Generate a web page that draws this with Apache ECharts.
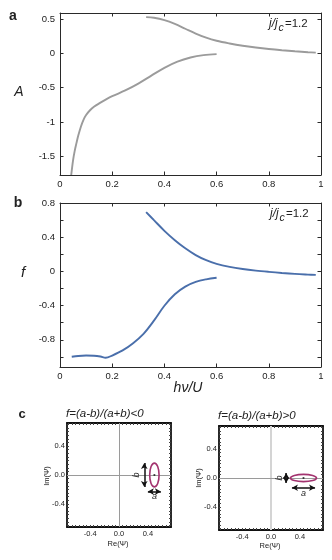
<!DOCTYPE html>
<html><head><meta charset="utf-8">
<script src="https://cdn.jsdelivr.net/npm/echarts@6/dist/echarts.min.js"></script>
<style>html,body{margin:0;padding:0;background:#fff}#c{width:332px;height:560px}</style>
</head><body><div id="c"></div>
<script>
// ---- Panel a : A vs hν/U ----
const aUpper = [[0.33,0.53],[0.36,0.52],[0.40,0.485],[0.44,0.43],[0.48,0.36],[0.52,0.29],[0.56,0.23],[0.60,0.185],[0.65,0.145],[0.70,0.112],[0.75,0.086],[0.80,0.064],[0.85,0.046],[0.90,0.031],[0.95,0.018],[0.98,0.011]];
const aLower = [[0.043,-1.775],[0.05,-1.56],[0.056,-1.43],[0.063,-1.31],[0.07,-1.2],[0.08,-1.07],[0.09,-0.97],[0.1,-0.9],[0.115,-0.83],[0.13,-0.78],[0.15,-0.73],[0.175,-0.675],[0.2,-0.625],[0.25,-0.54],[0.3,-0.44],[0.35,-0.325],[0.4,-0.21],[0.45,-0.12],[0.5,-0.06],[0.55,-0.025],[0.6,-0.01]];
// ---- Panel b : f vs hν/U ----
const bUpper = [[0.33,0.70],[0.36,0.605],[0.40,0.48],[0.44,0.37],[0.48,0.275],[0.52,0.195],[0.56,0.135],[0.60,0.092],[0.65,0.057],[0.70,0.032],[0.75,0.013],[0.80,-0.002],[0.85,-0.015],[0.90,-0.026],[0.95,-0.034],[0.98,-0.038]];
const bLower = [[0.045,-1.0],[0.07,-0.99],[0.1,-0.985],[0.13,-0.987],[0.155,-0.997],[0.175,-1.012],[0.2,-0.985],[0.24,-0.925],[0.28,-0.84],[0.32,-0.73],[0.36,-0.575],[0.40,-0.40],[0.44,-0.265],[0.48,-0.175],[0.52,-0.12],[0.56,-0.09],[0.60,-0.072]];
// ---- Panel c : ellipses in the Re/Im plane ----
const cLeftEllipse = [[0.49, 0, 0.065, 0.165]];   // [centre Re, centre Im, semi a, semi b]
const cLeftArrows = [[0.35,-0.165,0.35,0.165],[0.40,-0.23,0.58,-0.23]];
const cLeftLabels = [[0.24,0,'b'],[0.49,-0.30,'a']];
const cRightEllipse = [[0.45, 0, 0.18, 0.05]];
const cRightArrows = [[0.21,-0.07,0.21,0.07],[0.29,-0.135,0.61,-0.135]];
const cRightLabels = [[0.115,0,'b'],[0.45,-0.22,'a']];
// ---- ticks ----
const abXTicks = [0,0.2,0.4,0.6,0.8,1];
const aYTicks = [-1.5,-1,-0.5,0,0.5];
const bYTicks = [-1,-0.8,-0.6,-0.4,-0.2,0,0.2,0.4,0.6,0.8];
const bYLabels = [-0.8,-0.4,0,0.4,0.8];
const cLabels = [-0.4,0,0.4];
const cTicks = [];
for (let i = -14; i <= 14; i++) cTicks.push(+(i*0.05).toFixed(2));

const FONT = 'Liberation Sans, Arial, Helvetica, sans-serif';
const fmtAB = v => String(+(+v).toFixed(2));
const fmtC = v => (+v).toFixed(1);

function ax(grid, pos, min, max, ticks, labels, o) {
  return {
    type:'value', gridIndex:grid, position:pos, min:min, max:max,
    axisLine:{show:true,onZero:false,lineStyle:{color:o.lc,width:o.lw}},
    axisTick:{show:true,inside:true,length:o.tl,customValues:ticks,lineStyle:{color:o.tc||o.lc,width:1}},
    axisLabel:{show:!!labels,customValues:labels||[],fontSize:o.fs,color:'#222',margin:o.m,fontFamily:FONT,formatter:o.fmt},
    splitLine:{show:false}
  };
}
const oAB = {lc:'#2a2a2a',lw:1,tl:3.5,fs:9.5,m:4,fmt:fmtAB};
const oABy = Object.assign({}, oAB, {m:5});
const oC = {lc:'#111',lw:1.8,tl:2,fs:7.5,m:3,fmt:fmtC,tc:'#444'};
const oCy = Object.assign({}, oC, {m:2});

const xAxis = [
  ax(0,'bottom',0,1,abXTicks,abXTicks,oAB), ax(0,'top',0,1,abXTicks,null,oAB),
  ax(1,'bottom',0,1,abXTicks,abXTicks,oAB), ax(1,'top',0,1,abXTicks,null,oAB),
  ax(2,'bottom',-0.72,0.72,cTicks,cLabels,oC), ax(2,'top',-0.72,0.72,cTicks,null,oC),
  ax(3,'bottom',-0.72,0.72,cTicks,cLabels,oC), ax(3,'top',-0.72,0.72,cTicks,null,oC)
];
const yAxis = [
  ax(0,'left',-1.775,0.59,aYTicks,aYTicks,oABy), ax(0,'right',-1.775,0.59,aYTicks,null,oABy),
  ax(1,'left',-1.12,0.807,bYTicks,bYLabels,oABy), ax(1,'right',-1.12,0.807,bYTicks,null,oABy),
  ax(2,'left',-0.72,0.72,cTicks,cLabels,oCy), ax(2,'right',-0.72,0.72,cTicks,null,oCy),
  ax(3,'left',-0.72,0.72,cTicks,cLabels,oCy), ax(3,'right',-0.72,0.72,cTicks,null,oCy)
];

function lineSeries(data, xi, color) {
  return {type:'line', xAxisIndex:xi, yAxisIndex:xi, data:data, showSymbol:false, smooth:0.35,
    lineStyle:{color:color,width:1.9}, itemStyle:{color:color}, silent:true, z:5};
}
function ellipseSeries(data, xi, arrows) {
  return {type:'custom', xAxisIndex:xi, yAxisIndex:xi, data:data, silent:true, z:6,
    renderItem:function(params, api){
      const c = api.coord([api.value(0), api.value(1)]);
      const s = api.size([api.value(2), api.value(3)], [api.value(0), api.value(1)]);
      return {type:'ellipse', shape:{cx:c[0], cy:c[1], rx:s[0], ry:s[1]},
        style:{fill:'none', stroke:'#a3336f', lineWidth:1.6}};
    },
    markLine:{silent:true, symbol:['arrow','arrow'], symbolSize:[5,6], label:{show:false},
      lineStyle:{color:'#111', width:1.5, type:'solid'},
      data: arrows.map(a => [{coord:[a[0],a[1]]},{coord:[a[2],a[3]]}])}
  };
}
function dotSeries(data, xi, zeroLines) {
  return {type:'scatter', xAxisIndex:xi, yAxisIndex:xi, data:data.map(d=>[d[0],d[1]]), symbolSize:2.2,
    itemStyle:{color:'#111'}, silent:true, z:7,
    markLine:{silent:true, symbol:'none', label:{show:false}, z:1, data:zeroLines}};
}
function labelSeries(data, xi) {
  return {type:'custom', xAxisIndex:xi, yAxisIndex:xi, data:data, silent:true, z:8,
    renderItem:function(params, api){
      const c = api.coord([api.value(0), api.value(1)]);
      const t = data[params.dataIndex][2];
      return {type:'text', x:c[0], y:c[1], rotation: t==='b' ? Math.PI/2 : 0,
        style:{text:t, font:'italic 9px '+FONT, fill:'#222', align:'center', verticalAlign:'middle',
               textAlign:'center', textVerticalAlign:'middle'}};
    }};
}

const series = [
  lineSeries(aUpper,0,'#9b9b9b'), lineSeries(aLower,0,'#9b9b9b'),
  lineSeries(bUpper,2,'#4a6fab'), lineSeries(bLower,2,'#4a6fab'),
  dotSeries(cLeftEllipse,4,[
    {xAxis:0, lineStyle:{color:'#9a9a9a',width:1,type:'solid'}},
    {yAxis:0, lineStyle:{color:'#9a9a9a',width:1,type:'solid'}}]),
  ellipseSeries(cLeftEllipse,4,cLeftArrows),
  labelSeries(cLeftLabels,4),
  dotSeries(cRightEllipse,6,[
    {xAxis:0, lineStyle:{color:'#d4d4d4',width:2,type:'solid'}},
    {yAxis:0, lineStyle:{color:'#9a9a9a',width:1,type:'solid'}}]),
  ellipseSeries(cRightEllipse,6,cRightArrows),
  labelSeries(cRightLabels,6)
];

function txt(x, y, text, font, extra) {
  return Object.assign({type:'text', x:x, y:y, silent:true,
    style:{text:text, font:font, fill:'#222', align:'center', verticalAlign:'middle',
           textAlign:'center', textVerticalAlign:'middle'}}, extra||{});
}
function txtL(x, y, text, font) {
  return {type:'text', x:x, y:y, silent:true,
    style:{text:text, font:font, fill:'#222', align:'left', verticalAlign:'middle',
           textAlign:'left', textVerticalAlign:'middle'}};
}
const graphic = [
  txt(13,16,'a','bold 14px '+FONT),
  txt(18,203,'b','bold 14px '+FONT),
  txt(22,414,'c','bold 13px '+FONT),
  txt(19,92,'A','italic 14px '+FONT),
  txt(23,273,'f','italic 15px '+FONT),
  txt(188,388,'hν/U','italic 14px '+FONT),
  // j/jc = 1.2 annotations
  txtL(269,24,'j/j','italic 12px '+FONT), txtL(278.5,28,'c','italic 10.5px '+FONT), txtL(285,24,'=1.2','11.5px '+FONT),
  txtL(270,214,'j/j','italic 12px '+FONT), txtL(279.5,218,'c','italic 10.5px '+FONT), txtL(286,214,'=1.2','11.5px '+FONT),
  // panel c titles & axis names
  txtL(66,414,'f=(a-b)/(a+b)<0','italic 11.5px '+FONT),
  txtL(218,416,'f=(a-b)/(a+b)>0','italic 11.5px '+FONT),
  txt(47,476,'Im(Ψ)','7.5px '+FONT,{rotation:Math.PI/2}),
  txt(199,478,'Im(Ψ)','7.5px '+FONT,{rotation:Math.PI/2}),
  txt(118,544,'Re(Ψ)','7.5px '+FONT),
  txt(270,546,'Re(Ψ)','7.5px '+FONT)
];

const chart = echarts.init(document.getElementById('c'), null, {renderer:'canvas'});
chart.setOption({
  animation:false, backgroundColor:'#fff',
  grid:[
    {left:60, top:13, width:261, height:162},
    {left:60, top:203, width:261, height:164},
    {left:67, top:423, width:104, height:104},
    {left:219, top:426, width:104, height:104}
  ],
  xAxis:xAxis, yAxis:yAxis, series:series, graphic:graphic
});
</script></body></html>
